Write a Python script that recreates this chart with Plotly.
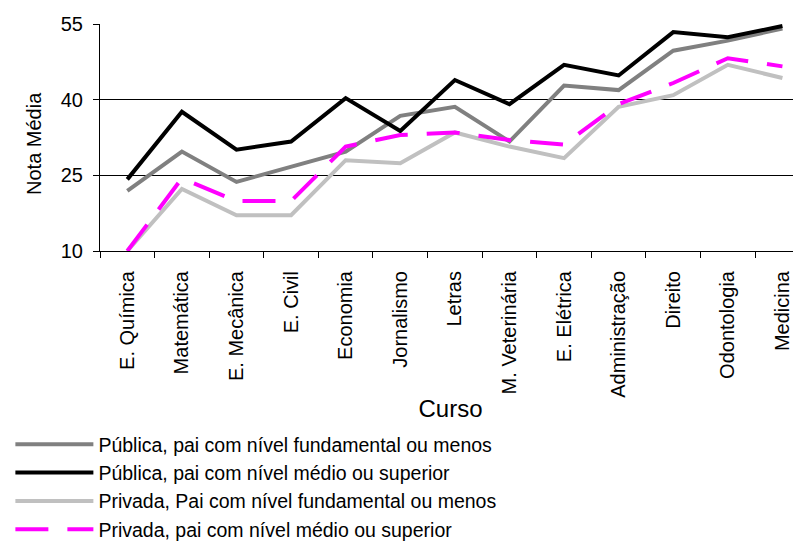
import plotly.graph_objects as go

# cursos (eixo x)
cursos = ['E. Química', 'Matemática', 'E. Mecânica', 'E. Civil', 'Economia',
          'Jornalismo', 'Letras', 'M. Veterinária', 'E. Elétrica',
          'Administração', 'Direito', 'Odontologia', 'Medicina']

# nota média por grupo
pub_fund = [21.9, 29.7, 23.7, 26.7, 29.7, 36.8, 38.6, 31.7, 42.8, 41.9, 49.7, 51.7, 54.1]
pub_medio = [24.2, 37.6, 30.1, 31.7, 40.3, 33.8, 43.9, 39.1, 46.9, 44.8, 53.4, 52.4, 54.6]
priv_fund = [10.0, 22.3, 17.1, 17.1, 28.0, 27.4, 33.5, 30.7, 28.4, 38.6, 40.9, 46.9, 44.3]
priv_medio = [10.0, 24.4, 19.9, 19.9, 30.7, 33.0, 33.5, 32.0, 31.1, 39.1, 43.3, 48.2, 46.6]

y_ticks = [10, 25, 40, 55]

FONT = 'Liberation Sans, Arial, sans-serif'

series = [
    ('Pública, pai com nível fundamental ou menos', pub_fund, '#808080', 'solid'),
    ('Pública, pai com nível médio ou superior', pub_medio, '#000000', 'solid'),
    ('Privada, Pai com nível fundamental ou menos', priv_fund, '#c0c0c0', 'solid'),
    ('Privada, pai com nível médio ou superior', priv_medio, '#ff00ff', '33px,19px'),
]

fig = go.Figure()
for i, (nome, vals, cor, dash) in enumerate(series):
    fig.add_trace(go.Scatter(
        x=cursos, y=vals, name=nome, mode='lines',
        line=dict(color=cor, width=4, dash=dash),
        legendgroup=f'g{i}',
    ))

# a página tem 8px de margem no body -> figura 793x536
fig.update_layout(
    width=793, height=536,
    paper_bgcolor='white', plot_bgcolor='white',
    font=dict(family=FONT, size=20, color='black'),
    margin=dict(l=92, r=0, t=16, b=293, autoexpand=False),
    showlegend=True,
    legend=dict(
        xref='container', yref='container', x=0.003, y=0.222,
        xanchor='left', yanchor='top',
        font=dict(size=19.5), tracegroupgap=0, itemwidth=78,
        bgcolor='rgba(0,0,0,0)',
    ),
)

fig.add_annotation(
    text='Nota Média', xref='paper', yref='paper', x=-0.113, y=0.475,
    textangle=-90, showarrow=False, font=dict(size=20),
)

fig.update_xaxes(
    type='category', range=[-0.5, 12.34],
    tickangle=-90, ticks='outside', ticklen=6, tickcolor='black',
    ticklabelstandoff=11,
    tickson='boundaries', showline=True, linecolor='black', linewidth=1,
    showgrid=False, title=dict(text='Curso', standoff=3),
)
fig.update_yaxes(
    range=[10, 55], tickvals=y_ticks, ticks='outside', ticklen=6,
    tickcolor='black', ticklabelstandoff=6,
    showline=True, linecolor='black', linewidth=1,
    showgrid=True, gridcolor='black', gridwidth=1, zeroline=False,
)

fig.write_html('out.html')
